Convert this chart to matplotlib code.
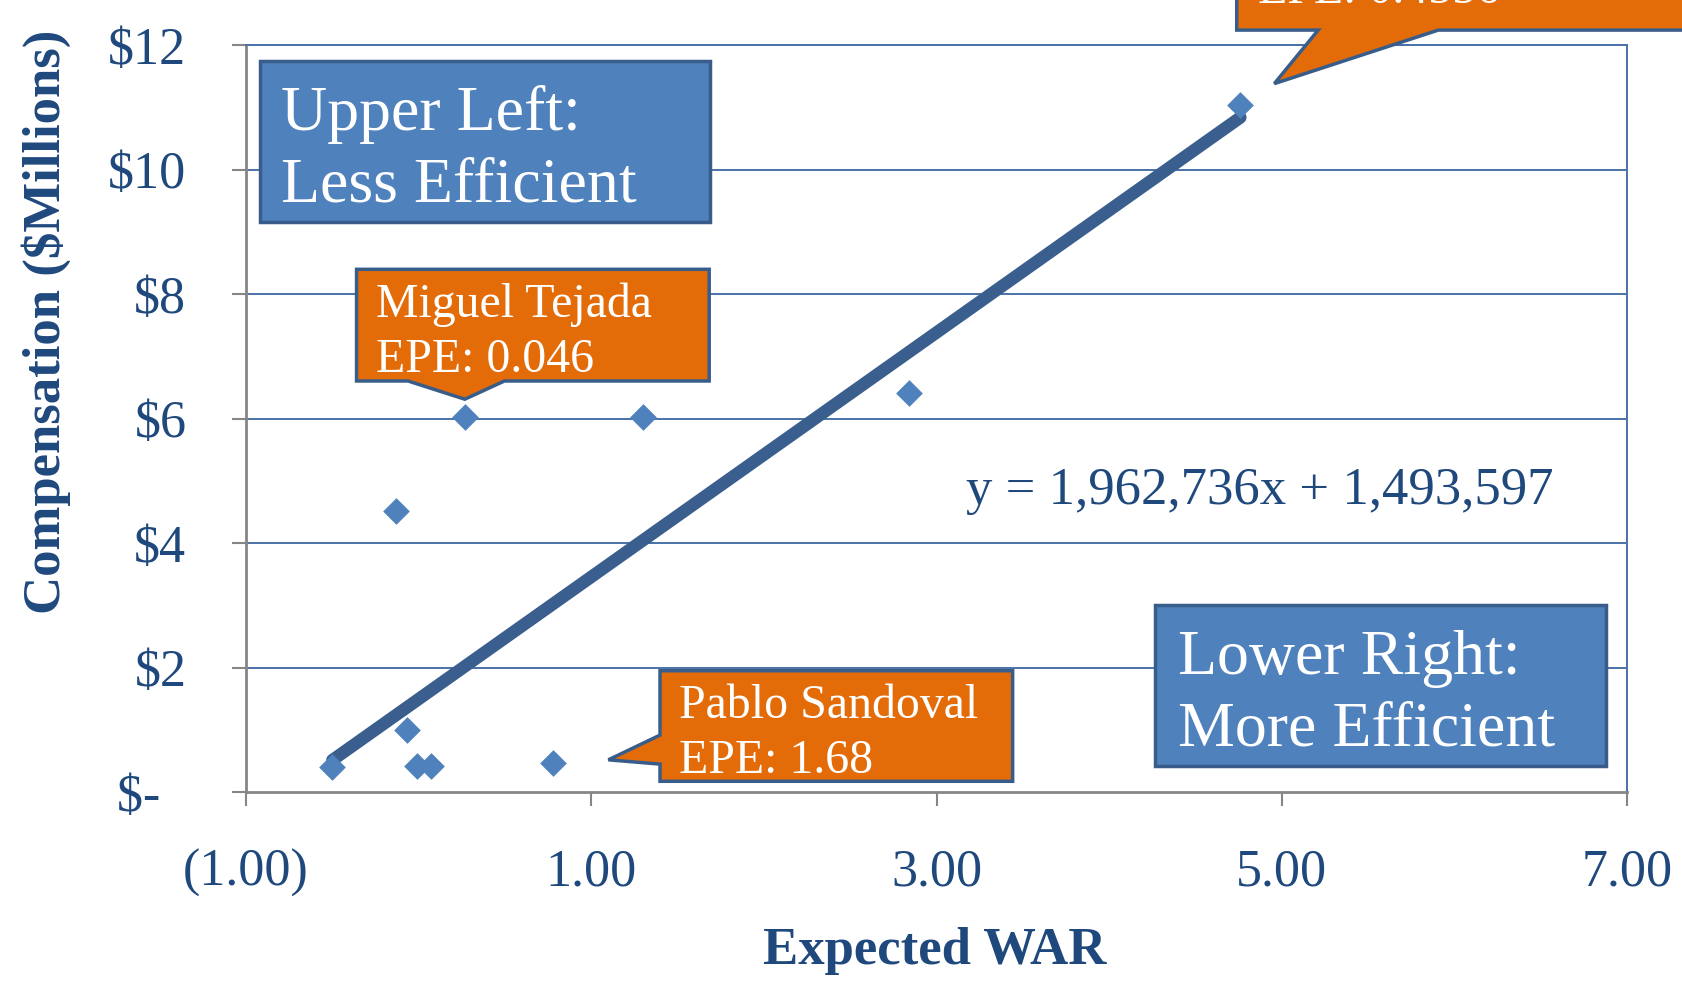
import matplotlib.pyplot as plt
from matplotlib.patches import Polygon
from matplotlib import rcParams

rcParams["font.family"] = ["Liberation Serif", "DejaVu Serif"]

# data
war = [-0.50, -0.13, -0.07, -0.01, 0.07, 0.27, 0.78, 1.30, 2.84, 4.76]
comp = [0.40, 4.52, 1.00, 0.41, 0.41, 6.02, 0.47, 6.02, 6.41, 11.03]  # $ millions
slope = 1.962736
intercept = 1.493597
x_ticks = [-1, 1, 3, 5, 7]
x_labels = ["(1.00)", "1.00", "3.00", "5.00", "7.00"]
y_ticks = [0, 2, 4, 6, 8, 10, 12]
y_labels = ["$-  ", "$2", "$4", "$6", "$8", "$10", "$12"]

navy = "#1f497d"
blue = "#4f81bd"
edge = "#385d8a"
orange = "#e36c09"

fig = plt.figure(figsize=(16.82, 9.83), dpi=100)
ax = fig.add_axes([0.1463, 0.1943, 0.8210, 0.7599])

ax.set_xlim(-1, 7)
ax.set_ylim(0, 12)

# gridlines
for y in y_ticks[1:]:
	ax.axhline(y, color="#4a72a8", linewidth=1.4, zorder=1)

ax.spines["left"].set_color("#868686")
ax.spines["bottom"].set_color("#868686")
ax.spines["left"].set_linewidth(2)
ax.spines["bottom"].set_linewidth(2)
ax.spines["top"].set_color("#4a72a8")
ax.spines["right"].set_color("#4a72a8")
ax.spines["top"].set_linewidth(1.4)
ax.spines["right"].set_linewidth(1.4)

ax.set_xticks(x_ticks)
ax.set_xticklabels(x_labels)
ax.set_yticks(y_ticks)
ax.set_yticklabels(y_labels)
ax.tick_params(axis="both", direction="out", length=10, width=1.5, color="#868686",
               labelcolor=navy, labelsize=37.5)
ax.tick_params(axis="x", pad=31)
ax.tick_params(axis="y", pad=33)

# points and trendline
ax.scatter(war, comp, marker="D", s=185, color=blue, zorder=4, linewidths=0)
x0, x1 = min(war), max(war)
ax.plot([x0, x1], [slope * x0 + intercept, slope * x1 + intercept],
        color="#3a5f8f", linewidth=9, solid_capstyle="round", zorder=3)

ax.text(3.17, 4.83, "y = 1,962,736x + 1,493,597", color=navy, fontsize=38,
        ha="left", va="center")

# callout boxes: (polygon corners, fill, text, text pos, fontsize, vertical align)
boxes = [
	([(-0.92, 11.74), (1.69, 11.74), (1.69, 9.155), (-0.92, 9.155)], blue,
	 "Upper Left:\nLess Efficient", (-0.795, 10.31), 46, "center"),
	([(4.267, 3.0), (6.876, 3.0), (6.876, 0.414), (4.267, 0.414)], blue,
	 "Lower Right:\nMore Efficient", (4.40, 1.56), 46, "center"),
	([(-0.36, 8.397), (1.683, 8.397), (1.683, 6.603), (0.497, 6.603), (0.267, 6.31),
	  (-0.062, 6.603), (-0.36, 6.603)], orange,
	 "Miguel Tejada\nEPE: 0.046", (-0.25, 7.38), 34.5, "center"),
	([(1.398, 1.948), (3.441, 1.948), (3.441, 0.172), (1.398, 0.172), (1.398, 0.448),
	  (1.099, 0.517), (1.398, 0.914)], orange,
	 "Pablo Sandoval\nEPE: 1.68", (1.51, 0.94), 34.5, "center"),
	([(4.739, 14.0), (7.6, 14.0), (7.6, 12.24), (5.907, 12.24), (4.957, 11.38),
	  (5.211, 12.24), (4.739, 12.24)], orange,
	 "EPE: 0.4556", (4.86, 12.67), 34.5, "baseline"),
]
for corners, fill, label, (tx, ty), size, va in boxes:
	poly = Polygon(corners, closed=True, facecolor=fill, edgecolor=edge, linewidth=2.5,
	               joinstyle="miter", clip_on=False, zorder=5)
	ax.add_patch(poly)
	ax.text(tx, ty, label, color="white", fontsize=size, ha="left", va=va,
	        linespacing=1.32, zorder=6, clip_on=False)

# axis titles
fig.text(0.5555, 0.033, "Expected WAR", color=navy, fontsize=38, fontweight="bold",
         ha="center", va="center")
fig.text(0.0274, 0.673, "Compensation ($Millions)", color=navy, fontsize=38,
         fontweight="bold", rotation=90, ha="center", va="center")

fig.savefig("out.png", dpi=100)
